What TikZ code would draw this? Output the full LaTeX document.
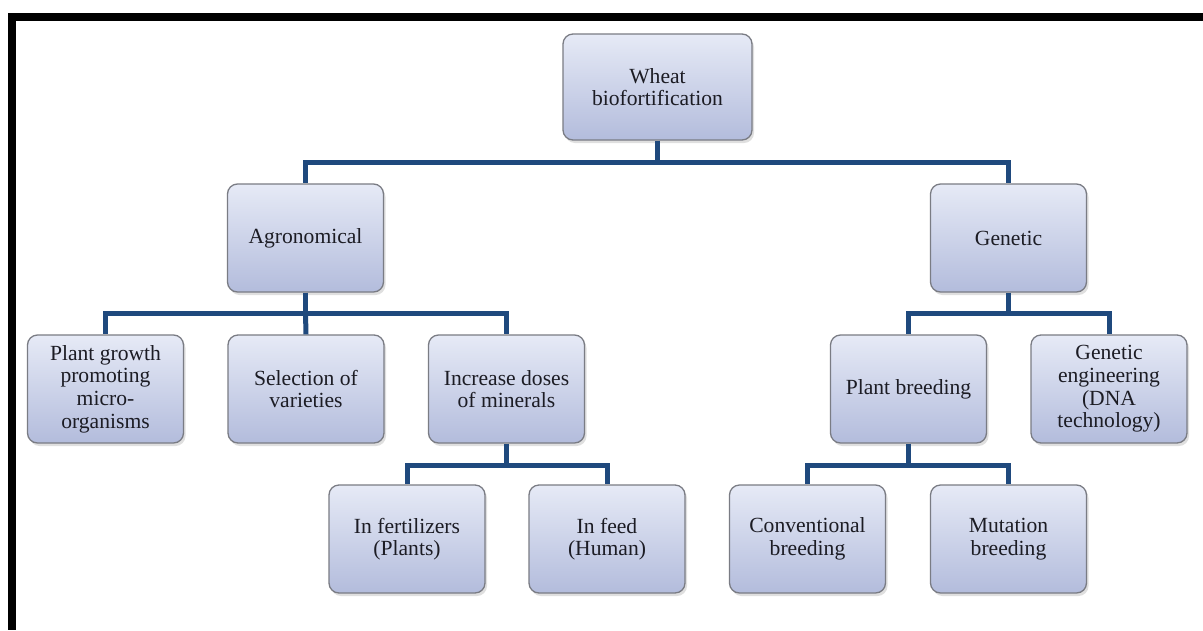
\documentclass[tikz,border=0pt]{standalone}
\usepackage{fontspec}
\setmainfont{Liberation Serif}
\usetikzlibrary{shadows}
\definecolor{conncol}{HTML}{1F497D}
\definecolor{boxtop}{HTML}{E6EAF6}
\definecolor{boxbot}{HTML}{B3BCDC}
\definecolor{boxline}{HTML}{7A7C84}
\definecolor{txt}{HTML}{1C1C24}
\tikzset{
  box/.style={draw=boxline, line width=1.3pt, rounded corners=10pt,
    top color=boxtop, bottom color=boxbot,
    minimum width=156pt, minimum height=108pt, inner sep=2pt,
    align=center, text=txt, font=\fontsize{21.6}{22.6}\selectfont,
    drop shadow={opacity=0.25, shadow xshift=2pt, shadow yshift=-3pt}},
  conn/.style={draw=conncol, line width=5pt, line join=miter}
}
\begin{document}
\begin{tikzpicture}[x=1pt,y=-1pt]
\useasboundingbox (0,0) rectangle (1203,630);
\fill[white] (0,0) rectangle (1203,630);
% frame
\fill[black] (8,13) rectangle (1203,21);
\fill[black] (8,13) rectangle (16,630);
% nodes
\node[box, minimum width=189pt, minimum height=106pt] (wheat) at (657.5,87) {Wheat\\biofortification};
\node[box] (agr) at (305.5,238) {Agronomical};
\node[box] (gen) at (1008.5,238) {Genetic};
\node[box] (pg) at (105.5,389) {Plant growth\\promoting\\micro-\\organisms};
\node[box] (sv) at (306,389) {Selection of\\varieties};
\node[box] (id) at (506.5,389) {Increase doses\\of minerals};
\node[box] (pb) at (908.5,389) {Plant breeding};
\node[box] (ge) at (1109,389) {Genetic\\engineering\\(DNA\\technology)};
\node[box] (if) at (407,539) {In fertilizers\\(Plants)};
\node[box] (ifd) at (607,539) {In feed\\(Human)};
\node[box] (cb) at (807.5,539) {Conventional\\breeding};
\node[box] (mb) at (1008.5,539) {Mutation\\breeding};
% bar junctions
\coordinate (b1) at (657.5,162);
\coordinate (b2) at (305.5,313);
\coordinate (b3) at (1008.5,313);
\coordinate (b4) at (506.5,465);
\coordinate (b5) at (908.5,465);
% connectors
\draw[conn] (wheat.south) -- (b1) -| (agr.north);
\draw[conn] (b1) -| (gen.north);
\draw[conn] (agr.south) -- (b2) -| (pg.north);
\draw[conn] (b2) -- (sv.north);
\draw[conn] (b2) -| (id.north);
\draw[conn] (gen.south) -- (b3) -| (pb.north);
\draw[conn] (b3) -| (ge.north);
\draw[conn] (id.south) -- (b4) -| (if.north);
\draw[conn] (b4) -| (ifd.north);
\draw[conn] (pb.south) -- (b5) -| (cb.north);
\draw[conn] (b5) -| (mb.north);
\end{tikzpicture}
\end{document}
